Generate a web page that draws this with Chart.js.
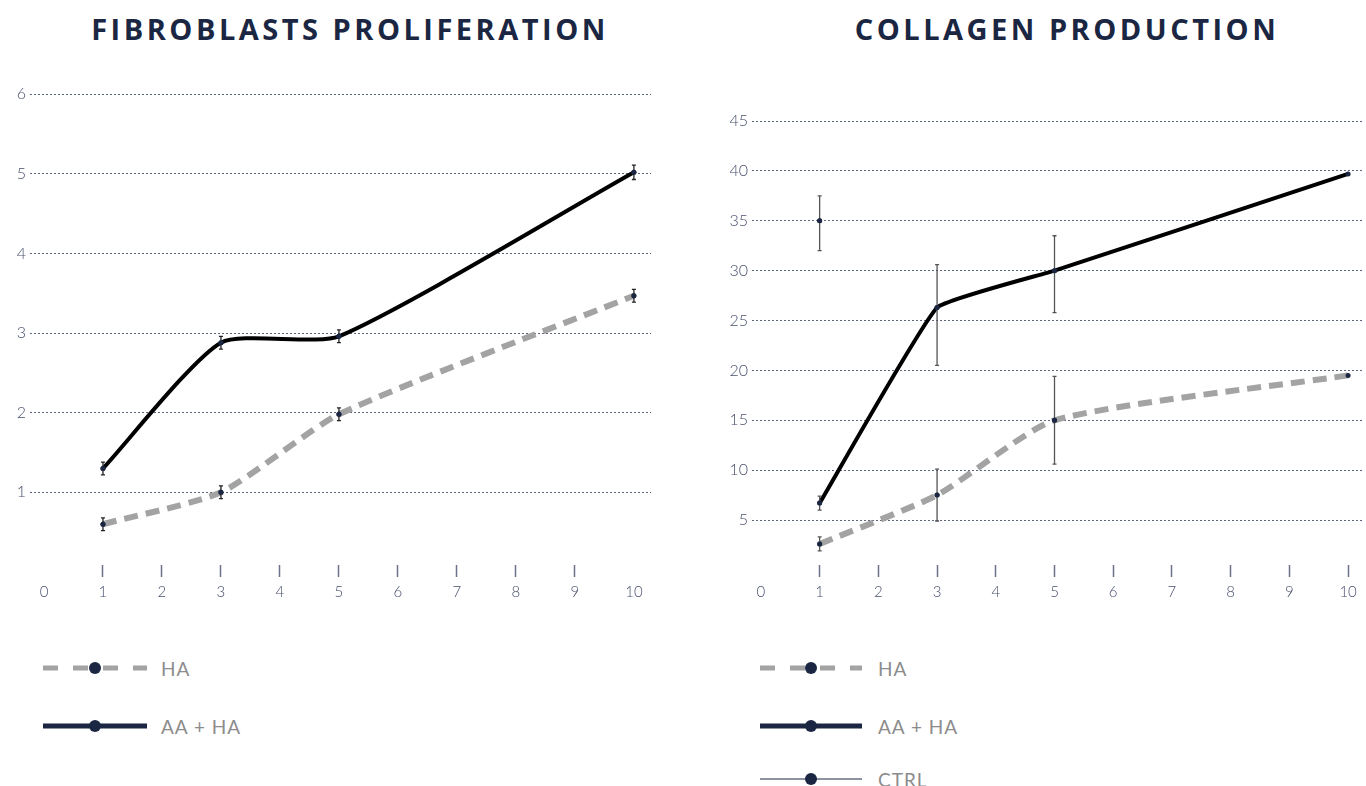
<!DOCTYPE html>
<html>
<head>
<meta charset="utf-8">
<title>Fibroblasts proliferation / Collagen production</title>
<script src="https://cdn.jsdelivr.net/npm/chart.js@4.4.1/dist/chart.umd.min.js"></script>
<style>
    html, body { margin: 0; padding: 0; background: #fff; width: 1366px; height: 786px; overflow: hidden; }
    .title {
        position: absolute; top: 9px; line-height: 29px;
        font: 700 29px 'Open Sans', sans-serif; letter-spacing: 3.5px;
        color: #1b2742; white-space: nowrap; transform: translateX(-50%);
    }
    .chart-box { position: absolute; top: 0; width: 683px; height: 605px; }
    .legend-item { position: absolute; display: flex; align-items: center; height: 20px; white-space: nowrap; }
    .legend-item span { font: 400 19px Lato, 'Open Sans', sans-serif; color: #8c8c8c; letter-spacing: 1px; }
</style>
</head>
<body>

<div class="title" style="left:350px">FIBROBLASTS PROLIFERATION</div>
<div class="title" style="left:1067px">COLLAGEN PRODUCTION</div>

<div class="chart-box" style="left:0"><canvas id="fibro-chart"></canvas></div>
<div class="chart-box" style="left:683px"><canvas id="collagen-chart"></canvas></div>

<div id="fibro-legend"></div>
<div id="collagen-legend"></div>

<script>
// ── Data ──────────────────────────
const xTicks = [0, 1, 2, 3, 4, 5, 6, 7, 8, 9, 10];

const fibroX = [1, 3, 5, 10];
const fibroHa = [0.6, 1.0, 1.98, 3.47];
const fibroHaErr = [0.08, 0.08, 0.08, 0.08];
const fibroAaHa = [1.3, 2.88, 2.96, 5.02];
const fibroAaHaErr = [0.08, 0.08, 0.08, 0.09];
const fibroYTicks = [1, 2, 3, 4, 5, 6];

const collagenX = [1, 3, 5, 10];
const collagenHa = [2.6, 7.5, 15, 19.5];
const collagenHaErr = [0.7, 2.6, 4.4, 0];
const collagenAaHa = [6.7, 26.3, 30, 39.7];
const collagenAaHaErr = [0.7, [5.8, 4.3], [4.2, 3.5], 0];   // [below, above]
const collagenCtrlX = [1];
const collagenCtrl = [35];
const collagenCtrlErr = [[3, 2.5]];
const collagenYTicks = [5, 10, 15, 20, 25, 30, 35, 40, 45];

// ── Styles ──────────────────────────
const NAVY = '#1b2742';
const GREY_LINE = '#a3a3a3';
const TICK_COLOR = '#474f6c';
const GRID_COLOR = '#5d6680';
const X_FONT = { family: 'Lato', size: 15, weight: '300' };
const Y_FONT = { family: 'Lato', size: 16, weight: '300' };

const toPoints = (xs, ys) => xs.map((x, i) => ({ x, y: ys[i] }));

// error bars drawn through the chart scales
const errorBars = {
    id: 'errorBars',
    afterDatasetsDraw(chart) {
        const { ctx, scales: { x, y } } = chart;
        chart.data.datasets.forEach(ds => {
            if (!ds.errors) return;
            ctx.save();
            ctx.strokeStyle = ds.errorColor || '#222';
            ctx.lineWidth = 1.3;
            ds.data.forEach((p, i) => {
                const e = ds.errors[i];
                const [lo, hi] = Array.isArray(e) ? e : [e, e];
                if (!lo && !hi) return;
                const px = x.getPixelForValue(p.x);
                const top = y.getPixelForValue(p.y + hi);
                const bot = y.getPixelForValue(p.y - lo);
                ctx.beginPath();
                ctx.moveTo(px, top); ctx.lineTo(px, bot);
                ctx.moveTo(px - 2, top); ctx.lineTo(px + 2, top);
                ctx.moveTo(px - 2, bot); ctx.lineTo(px + 2, bot);
                ctx.stroke();
                // redraw the marker over the bar
                ctx.fillStyle = NAVY;
                ctx.beginPath();
                ctx.arc(px, y.getPixelForValue(p.y), 2.5, 0, Math.PI * 2);
                ctx.fill();
            });
            ctx.restore();
        });
    }
};

function haDataset(xs, ys, errs, errColor, tension) {
    return {
        label: 'HA',
        data: toPoints(xs, ys),
        errors: errs,
        errorColor: errColor,
        borderColor: GREY_LINE,
        borderWidth: 6,
        borderDash: [14, 8],
        borderCapStyle: 'butt',
        tension: tension,
        pointRadius: 2.5,
        pointBackgroundColor: NAVY,
        pointBorderWidth: 0
    };
}

function aaHaDataset(xs, ys, errs, errColor, tension) {
    return {
        label: 'AA + HA',
        data: toPoints(xs, ys),
        errors: errs,
        errorColor: errColor,
        borderColor: '#000',
        borderWidth: 4,
        tension: tension,
        pointRadius: 2.5,
        pointBackgroundColor: NAVY,
        pointBorderWidth: 0
    };
}

function buildOptions(cfg) {
    return {
        responsive: true,
        maintainAspectRatio: false,
        animation: false,
        layout: { padding: cfg.padding },
        plugins: { legend: { display: false }, tooltip: { enabled: false } },
        scales: {
            x: {
                type: 'linear',
                min: cfg.xMin,
                max: cfg.xMax,
                afterBuildTicks: s => { s.ticks = xTicks.map(v => ({ value: v })); },
                afterFit: s => { s.height = 40; },
                grid: {
                    drawOnChartArea: false,
                    drawTicks: true,
                    tickLength: 12,
                    tickWidth: 1.5,
                    tickColor: c => cfg.hiddenTicks.includes(c.tick.value) ? 'rgba(0,0,0,0)' : '#6b7186'
                },
                border: { display: false },
                ticks: { color: TICK_COLOR, font: X_FONT, padding: 6, maxRotation: 0, autoSkip: false }
            },
            y: {
                min: cfg.yMin,
                max: cfg.yMax,
                afterBuildTicks: s => { s.ticks = cfg.yTicks.map(v => ({ value: v })); },
                afterFit: s => { s.width = cfg.yWidth; },
                grid: { color: GRID_COLOR, lineWidth: 1, drawTicks: false },
                border: { display: false, dash: [2, 2] },
                ticks: { color: TICK_COLOR, font: Y_FONT, padding: 4 }
            }
        }
    };
}

new Chart(document.getElementById('fibro-chart'), {
    type: 'line',
    data: {
        datasets: [
            haDataset(fibroX, fibroHa, fibroHaErr, '#222', 0.2),
            aaHaDataset(fibroX, fibroAaHa, fibroAaHaErr, '#222', 0.2)
        ]
    },
    options: buildOptions({
        padding: { top: 85, right: 32, left: 0, bottom: 0 },
        xMin: -0.237, xMax: 10.29,
        yMin: 0.087, yMax: 6.117,
        yTicks: fibroYTicks, yWidth: 30,
        hiddenTicks: [0, 10]
    }),
    plugins: [errorBars]
});

new Chart(document.getElementById('collagen-chart'), {
    type: 'line',
    data: {
        datasets: [
            haDataset(collagenX, collagenHa, collagenHaErr, '#555', 0.2),
            aaHaDataset(collagenX, collagenAaHa, collagenAaHaErr, '#555', 0.1),
            {
                label: 'CTRL',
                data: toPoints(collagenCtrlX, collagenCtrl),
                errors: collagenCtrlErr,
                errorColor: '#555',
                showLine: false,
                borderColor: NAVY,
                borderWidth: 1,
                pointRadius: 2.5,
                pointBackgroundColor: NAVY,
                pointBorderWidth: 0
            }
        ]
    },
    options: buildOptions({
        padding: { top: 105, right: 0, left: 0, bottom: 0 },
        xMin: -0.152, xMax: 10.237,
        yMin: 0.49, yMax: 46.61,
        yTicks: collagenYTicks, yWidth: 69,
        hiddenTicks: [0]
    }),
    plugins: [errorBars]
});

// ── Legends ──────────────────────────
function legendSymbol(kind, w) {
    const mid = w / 2;
    let line;
    if (kind === 'dash') {
        line = `<line x1="0" y1="10" x2="${w}" y2="10" stroke="${GREY_LINE}" stroke-width="5" stroke-dasharray="15 15"/>`;
    } else if (kind === 'solid') {
        line = `<line x1="0" y1="10" x2="${w}" y2="10" stroke="${NAVY}" stroke-width="5"/>`;
    } else {
        line = `<line x1="0" y1="10" x2="${w}" y2="10" stroke="${NAVY}" stroke-width="1.2"/>`;
    }
    return `<svg width="${w}" height="20">${line}<circle cx="${mid}" cy="10" r="6" fill="${NAVY}"/></svg>`;
}

function renderLegend(id, left, symW, gap, items) {
    document.getElementById(id).innerHTML = items.map(it => `
        <div class="legend-item" style="left:${left}px; top:${it.y - 10}px">
            ${legendSymbol(it.kind, symW)}<span style="margin-left:${gap}px">${it.label}</span>
        </div>`).join('');
}

renderLegend('fibro-legend', 43, 104, 14, [
    { label: 'HA', kind: 'dash', y: 668 },
    { label: 'AA + HA', kind: 'solid', y: 726 }
]);
renderLegend('collagen-legend', 760, 102, 16, [
    { label: 'HA', kind: 'dash', y: 668 },
    { label: 'AA + HA', kind: 'solid', y: 726 },
    { label: 'CTRL', kind: 'thin', y: 779 }
]);
</script>
</body>
</html>
